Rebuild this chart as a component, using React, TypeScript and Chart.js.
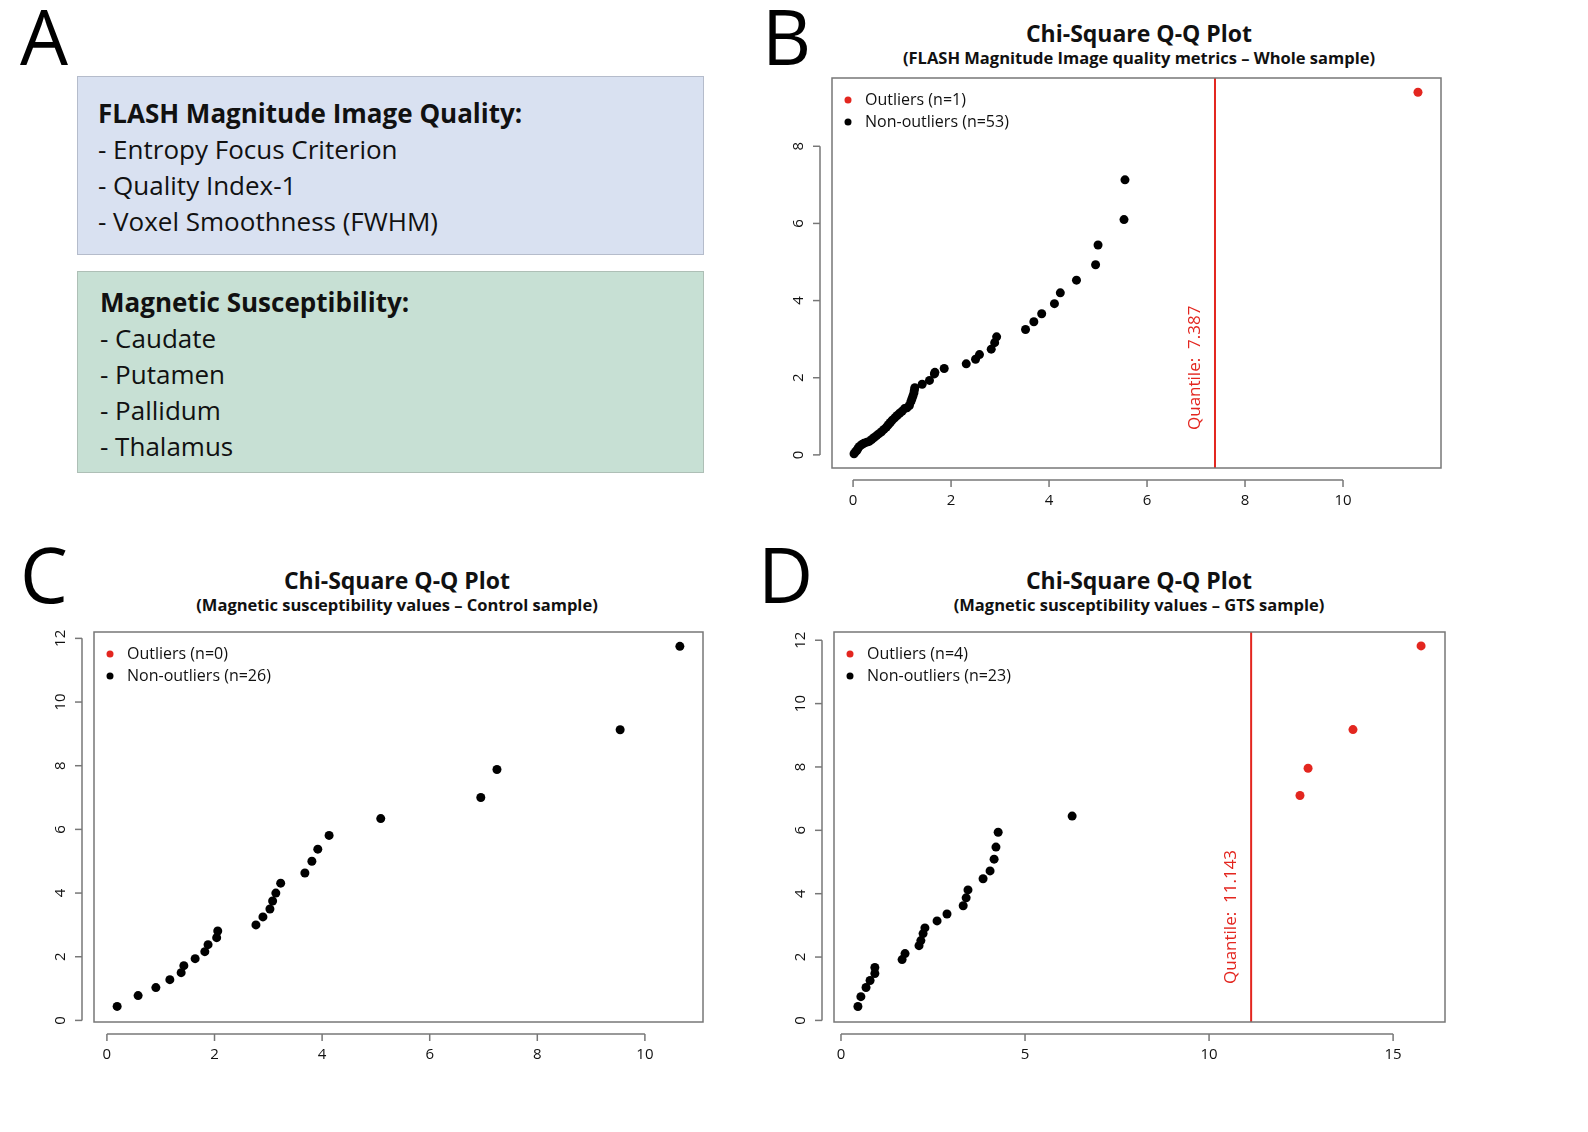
import { Chart, registerables } from "chart.js";
import { useEffect, useRef } from "react";

Chart.register(...registerables);

const RED = "#e3261f";
const FONT = "'Open Sans', 'DejaVu Sans', sans-serif";

// Panel B: FLASH magnitude quality metrics – whole sample
const bInliers: [number, number][] = [
  [0.02, 0.03], [0.05, 0.08], [0.08, 0.12], [0.1, 0.17], [0.13, 0.22], [0.18, 0.27], [0.22, 0.3], [0.28, 0.33],
  [0.33, 0.35], [0.38, 0.4], [0.43, 0.45], [0.48, 0.5], [0.53, 0.55], [0.58, 0.6], [0.63, 0.66], [0.68, 0.72],
  [0.72, 0.78], [0.76, 0.84], [0.8, 0.9], [0.85, 0.96], [0.9, 1.02], [0.95, 1.08], [1.0, 1.13], [1.05, 1.2],
  [1.1, 1.22], [1.15, 1.28], [1.18, 1.38], [1.2, 1.45], [1.22, 1.52], [1.24, 1.6], [1.25, 1.67], [1.26, 1.74],
  [1.41, 1.83], [1.56, 1.93], [1.66, 2.1], [1.67, 2.14], [1.86, 2.24], [2.31, 2.36], [2.5, 2.48], [2.58, 2.6],
  [2.82, 2.74], [2.89, 2.91], [2.93, 3.06], [3.52, 3.25], [3.69, 3.45], [3.85, 3.66], [4.11, 3.92], [4.23, 4.2],
  [4.56, 4.53], [4.95, 4.93], [5.0, 5.44], [5.53, 6.1], [5.55, 7.13],
];
const bOutliers: [number, number][] = [[11.53, 9.4]];
const bQuantile = 7.387;
const bXTicks = [0, 2, 4, 6, 8, 10];
const bYTicks = [0, 2, 4, 6, 8];

// Panel C: magnetic susceptibility – control sample
const cInliers: [number, number][] = [
  [0.19, 0.44], [0.58, 0.78], [0.91, 1.03], [1.17, 1.28], [1.38, 1.5], [1.43, 1.72], [1.64, 1.94], [1.82, 2.16],
  [1.88, 2.38], [2.04, 2.6], [2.06, 2.81], [2.77, 3.0], [2.9, 3.25], [3.03, 3.5], [3.08, 3.75], [3.14, 4.0],
  [3.23, 4.31], [3.68, 4.63], [3.81, 5.0], [3.92, 5.38], [4.13, 5.81], [5.09, 6.34], [6.95, 7.0], [7.25, 7.88],
  [9.54, 9.13], [10.65, 11.75],
];
const cOutliers: [number, number][] = [];
const cXTicks = [0, 2, 4, 6, 8, 10];
const cYTicks = [0, 2, 4, 6, 8, 10, 12];

// Panel D: magnetic susceptibility – GTS sample
const dInliers: [number, number][] = [
  [0.46, 0.44], [0.54, 0.75], [0.68, 1.04], [0.79, 1.26], [0.92, 1.48], [0.92, 1.67], [1.66, 1.92], [1.74, 2.11],
  [2.12, 2.36], [2.17, 2.52], [2.23, 2.74], [2.28, 2.92], [2.61, 3.14], [2.88, 3.36], [3.32, 3.62], [3.4, 3.87],
  [3.45, 4.12], [3.86, 4.47], [4.05, 4.72], [4.16, 5.09], [4.21, 5.47], [4.27, 5.94], [6.28, 6.45],
];
const dOutliers: [number, number][] = [[12.47, 7.1], [12.69, 7.96], [13.91, 9.18], [15.76, 11.82]];
const dQuantile = 11.143;
const dXTicks = [0, 5, 10, 15];
const dYTicks = [0, 2, 4, 6, 8, 10, 12];

interface QQProps {
  inliers: [number, number][];
  outliers: [number, number][];
  quantile?: number;
  xMin: number; xMax: number; yMin: number; yMax: number;
  xTicks: number[]; yTicks: number[];
  padding: { left: number; right: number; top: number; bottom: number };
  width: number; height: number;
}

function QQChart(p: QQProps) {
  const ref = useRef<HTMLCanvasElement | null>(null);
  useEffect(() => {
    if (!ref.current) return;
    const toPts = (a: [number, number][]) => a.map(([x, y]) => ({ x, y }));
    const datasets: any[] = [
      { type: "scatter", data: toPts(p.inliers), backgroundColor: "#000", borderWidth: 0, pointRadius: 4.5 },
      { type: "scatter", data: toPts(p.outliers), backgroundColor: RED, borderWidth: 0, pointRadius: 4.5 },
    ];
    if (p.quantile !== undefined) {
      datasets.push({
        type: "line",
        data: [{ x: p.quantile, y: p.yMin }, { x: p.quantile, y: p.yMax }],
        borderColor: RED, borderWidth: 2, pointRadius: 0,
      });
    }
    const decor = {
      id: "decor",
      afterDraw(chart: Chart) {
        const { ctx, chartArea: a } = chart;
        const xs = chart.scales.x, ys = chart.scales.y;
        ctx.save();
        ctx.strokeStyle = "#777";
        ctx.lineWidth = 1.5;
        ctx.strokeRect(a.left, a.top, a.right - a.left, a.bottom - a.top);
        // x axis
        const ay = a.bottom + 12;
        const x0 = xs.getPixelForValue(p.xTicks[0]), x1 = xs.getPixelForValue(p.xTicks[p.xTicks.length - 1]);
        ctx.beginPath(); ctx.moveTo(x0, ay); ctx.lineTo(x1, ay); ctx.stroke();
        ctx.fillStyle = "#111";
        ctx.font = `15px ${FONT}`;
        ctx.textAlign = "center"; ctx.textBaseline = "middle";
        p.xTicks.forEach((t) => {
          const x = xs.getPixelForValue(t);
          ctx.beginPath(); ctx.moveTo(x, ay); ctx.lineTo(x, ay + 7); ctx.stroke();
          ctx.fillText(String(t), x, ay + 21);
        });
        // y axis
        const ax = a.left - 12;
        const y0 = ys.getPixelForValue(p.yTicks[0]), y1 = ys.getPixelForValue(p.yTicks[p.yTicks.length - 1]);
        ctx.beginPath(); ctx.moveTo(ax, y0); ctx.lineTo(ax, y1); ctx.stroke();
        p.yTicks.forEach((t) => {
          const y = ys.getPixelForValue(t);
          ctx.beginPath(); ctx.moveTo(ax, y); ctx.lineTo(ax - 7, y); ctx.stroke();
          ctx.save();
          ctx.translate(ax - 21, y);
          ctx.rotate(-Math.PI / 2);
          ctx.fillText(String(t), 0, 0);
          ctx.restore();
        });
        // legend
        ctx.textAlign = "left";
        ctx.font = `16px ${FONT}`;
        const lx = a.left + 16, ly = a.top + 22;
        [[RED, `Outliers (n=${p.outliers.length})`], ["#000", `Non-outliers (n=${p.inliers.length})`]].forEach(([c, s], i) => {
          ctx.fillStyle = c;
          ctx.beginPath(); ctx.arc(lx, ly + i * 22, 3.5, 0, Math.PI * 2); ctx.fill();
          ctx.fillStyle = "#111";
          ctx.fillText(s, lx + 17, ly + i * 22);
        });
        // quantile label
        if (p.quantile !== undefined) {
          const qx = xs.getPixelForValue(p.quantile);
          ctx.save();
          ctx.translate(qx - 20, a.bottom - 38);
          ctx.rotate(-Math.PI / 2);
          ctx.fillStyle = RED;
          ctx.font = `17px ${FONT}`;
          ctx.textAlign = "left";
          ctx.fillText(`Quantile:  ${p.quantile}`, 0, 0);
          ctx.restore();
        }
        ctx.restore();
      },
    };
    const chart = new Chart(ref.current, {
      type: "scatter",
      data: { datasets },
      options: {
        animation: false,
        responsive: false,
        layout: { padding: p.padding },
        plugins: { legend: { display: false }, tooltip: { enabled: false } },
        scales: {
          x: { type: "linear", min: p.xMin, max: p.xMax, display: false },
          y: { type: "linear", min: p.yMin, max: p.yMax, display: false },
        },
      },
      plugins: [decor],
    });
    return () => chart.destroy();
  }, [p]);
  return <canvas ref={ref} width={p.width} height={p.height} style={{ display: "block", width: p.width, height: p.height }} />;
}

const abs = (l: number, t: number): React.CSSProperties => ({ position: "absolute", left: l, top: t });
const letter: React.CSSProperties = { fontFamily: "'Open Sans', sans-serif", fontSize: 76, lineHeight: 1, color: "#000" };

function Titles({ cx, top, sub }: { cx: number; top: number; sub: string }) {
  return (
    <div style={{ position: "absolute", left: cx - 350, top, width: 700, textAlign: "center", fontFamily: FONT, fontWeight: 700, color: "#111" }}>
      <div style={{ fontSize: 23, lineHeight: "26px" }}>Chi-Square Q-Q Plot</div>
      <div style={{ fontSize: 16.5, lineHeight: "24px" }}>{sub}</div>
    </div>
  );
}

const box = (bg: string, border: string): React.CSSProperties => ({
  position: "absolute", left: 77, width: 627, background: bg, border: `1.5px solid ${border}`,
  fontFamily: FONT, fontSize: 26, color: "#111", lineHeight: "36px", boxSizing: "border-box", paddingLeft: 20,
});

const bProps: QQProps = {
  inliers: bInliers, outliers: bOutliers, quantile: bQuantile,
  xMin: -0.43, xMax: 12.0, yMin: -0.34, yMax: 9.77, xTicks: bXTicks, yTicks: bYTicks,
  padding: { left: 72, right: 19, top: 78, bottom: 52 }, width: 700, height: 520,
};
const cProps: QQProps = {
  inliers: cInliers, outliers: cOutliers,
  xMin: -0.24, xMax: 11.08, yMin: -0.05, yMax: 12.2, xTicks: cXTicks, yTicks: cYTicks,
  padding: { left: 74, right: 17, top: 92, bottom: 58 }, width: 700, height: 540,
};
const dProps: QQProps = {
  inliers: dInliers, outliers: dOutliers, quantile: dQuantile,
  xMin: -0.19, xMax: 16.41, yMin: -0.05, yMax: 12.26, xTicks: dXTicks, yTicks: dYTicks,
  padding: { left: 74, right: 15, top: 92, bottom: 58 }, width: 700, height: 540,
};

export default function App() {
  return (
    <div style={{ position: "fixed", left: 0, top: 0, width: 1588, height: 1132, background: "#fff", overflow: "hidden" }}>
      <div style={{ ...abs(20, -2), ...letter }}>A</div>
      <div style={{ ...abs(762, -2), ...letter }}>B</div>
      <div style={{ ...abs(20, 536), ...letter }}>C</div>
      <div style={{ ...abs(758, 536), ...letter }}>D</div>

      <div style={{ ...box("#d9e1f1", "#b5bccb"), top: 76, height: 179, paddingTop: 18 }}>
        <div style={{ fontWeight: 700 }}>FLASH Magnitude Image Quality:</div>
        <div>- Entropy Focus Criterion</div>
        <div>- Quality Index-1</div>
        <div>- Voxel Smoothness (FWHM)</div>
      </div>
      <div style={{ ...box("#c7e0d4", "#aebfb6"), top: 271, height: 202, paddingTop: 12, paddingLeft: 22 }}>
        <div style={{ fontWeight: 700 }}>Magnetic Susceptibility:</div>
        <div>- Caudate</div>
        <div>- Putamen</div>
        <div>- Pallidum</div>
        <div>- Thalamus</div>
      </div>

      <Titles cx={1139} top={20} sub="(FLASH Magnitude Image quality metrics – Whole sample)" />
      <Titles cx={397} top={567} sub="(Magnetic susceptibility values – Control sample)" />
      <Titles cx={1139} top={567} sub="(Magnetic susceptibility values – GTS sample)" />

      <div style={abs(760, 0)}><QQChart {...bProps} /></div>
      <div style={abs(20, 540)}><QQChart {...cProps} /></div>
      <div style={abs(760, 540)}><QQChart {...dProps} /></div>
    </div>
  );
}
